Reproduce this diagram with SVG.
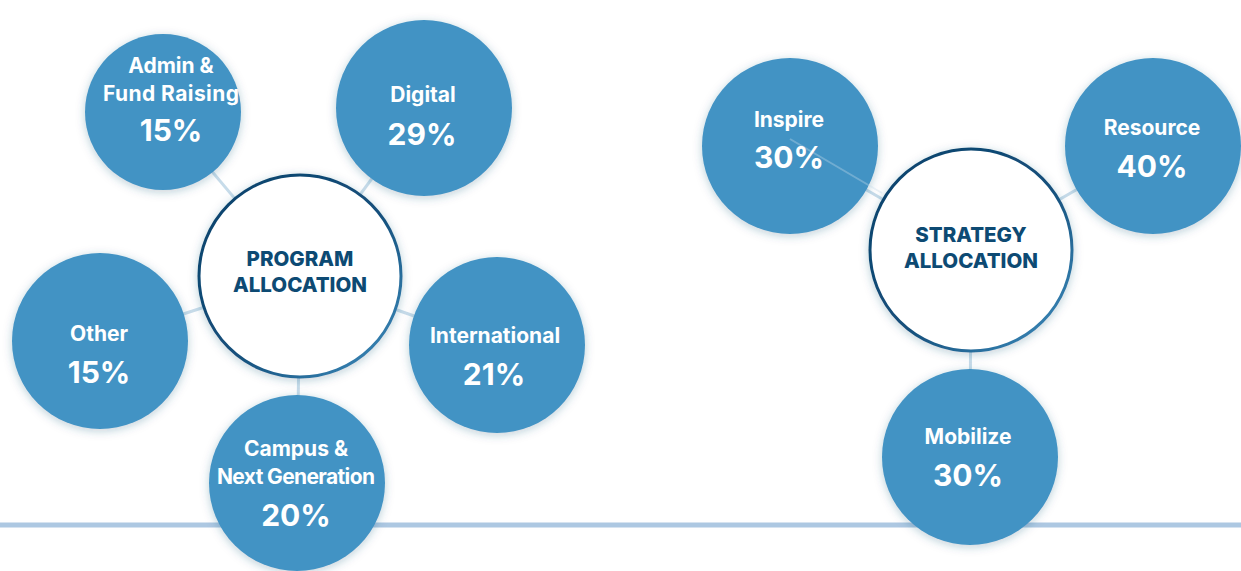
<svg xmlns="http://www.w3.org/2000/svg" width="1241" height="571" viewBox="0 0 1241 571">
<defs>
<filter id="sh" x="-30%" y="-30%" width="160%" height="160%">
<feDropShadow dx="0" dy="2" stdDeviation="5" flood-color="#1d4f73" flood-opacity="0.28"/>
</filter>
<linearGradient id="rim" x1="0" y1="0" x2="1" y2="1">
<stop offset="0" stop-color="#0b416a"/>
<stop offset="0.55" stop-color="#15507c"/>
<stop offset="1" stop-color="#3f90c2"/>
</linearGradient>
<style>
.sat{fill:#4293c4;filter:url(#sh)}
.hub{fill:#ffffff;stroke:url(#rim);stroke-width:3;filter:url(#sh)}
.lbl{font-family:Inter,"Liberation Sans",sans-serif;font-weight:700;fill:#ffffff;text-anchor:middle;font-size:21px}
.pct{font-family:Inter,"Liberation Sans",sans-serif;font-weight:700;fill:#ffffff;text-anchor:middle;font-size:30px}
.hubt{font-family:Inter,"Liberation Sans",sans-serif;font-weight:800;fill:#0d4a73;text-anchor:middle;font-size:20.5px}
.con{stroke:#c7dcea;stroke-width:3;fill:none}
</style>
</defs>
<rect width="1241" height="571" fill="#ffffff"/>
<line x1="0" y1="525" x2="1241" y2="525" stroke="#adc8e2" stroke-width="5"/>
<g id="connectors">
<line class="con" x1="300" y1="276" x2="162" y2="112"/>
<line class="con" x1="300" y1="276" x2="424" y2="108"/>
<line class="con" x1="300" y1="276" x2="100" y2="341"/>
<line class="con" x1="300" y1="276" x2="497" y2="345"/>
<line class="con" x1="300" y1="276" x2="297" y2="482"/>
<line class="con" x1="971" y1="250" x2="790" y2="146"/>
<line class="con" x1="971" y1="250" x2="1153" y2="146"/>
<line class="con" x1="971" y1="250" x2="970" y2="457"/>
</g>
<g id="admin">
<circle class="sat" cx="163" cy="112" r="78"/>
<text class="lbl" x="171" y="73">Admin &amp;</text>
<text class="lbl" x="171" y="101" textLength="136">Fund Raising</text>
<text class="pct" x="171" y="141">15%</text>
</g>
<g id="digital">
<circle class="sat" cx="424" cy="108" r="88"/>
<text class="lbl" x="423" y="102">Digital</text>
<text class="pct" x="422" y="145">29%</text>
</g>
<g id="other">
<circle class="sat" cx="100" cy="341" r="88"/>
<text class="lbl" x="99" y="341">Other</text>
<text class="pct" x="99" y="383">15%</text>
</g>
<g id="international">
<circle class="sat" cx="497" cy="345" r="88"/>
<text class="lbl" x="495" y="343">International</text>
<text class="pct" x="494" y="385">21%</text>
</g>
<g id="campus">
<circle class="sat" cx="297" cy="483" r="88"/>
<text class="lbl" x="296" y="456">Campus &amp;</text>
<text class="lbl" x="296" y="484" textLength="158">Next Generation</text>
<text class="pct" x="296" y="526">20%</text>
</g>
<g id="program-allocation">
<circle class="hub" cx="300" cy="276" r="101"/>
<text class="hubt" x="300" y="266">PROGRAM</text>
<text class="hubt" x="300" y="292">ALLOCATION</text>
</g>
<g id="inspire">
<circle class="sat" cx="790" cy="146" r="88"/>
<line x1="790" y1="139" x2="882" y2="193" stroke="#c7dcea" stroke-width="2" opacity="0.35"/>
<text class="lbl" x="789" y="127">Inspire</text>
<text class="pct" x="789" y="168">30%</text>
</g>
<g id="resource">
<circle class="sat" cx="1153" cy="146" r="88"/>
<text class="lbl" x="1152" y="135">Resource</text>
<text class="pct" x="1152" y="177">40%</text>
</g>
<g id="mobilize">
<circle class="sat" cx="970" cy="457" r="88"/>
<text class="lbl" x="968" y="444">Mobilize</text>
<text class="pct" x="968" y="486">30%</text>
</g>
<g id="strategy-allocation">
<circle class="hub" cx="971" cy="250" r="101"/>
<text class="hubt" x="971" y="242">STRATEGY</text>
<text class="hubt" x="971" y="268">ALLOCATION</text>
</g>
</svg>
